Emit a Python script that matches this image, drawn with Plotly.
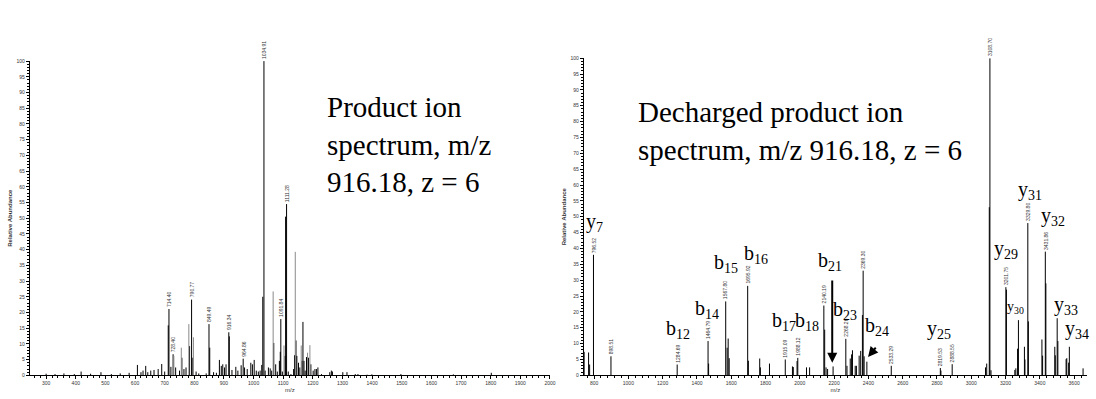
import plotly.graph_objects as go

# ---------------- data: left spectrum (product ion spectrum) ----------------
left_black_mz = [300, 330, 360, 395, 418, 450, 485, 520, 550, 580, 608, 620, 627, 636, 643, 653, 664, 678, 690, 700,
                 712, 714.40, 721, 728.40, 737, 750, 758, 765, 772, 784, 790.77, 792.6, 806, 815, 840, 849.49, 852,
                 865, 874.5, 884.6, 891, 896, 902, 907, 916.34, 918, 927, 940, 947, 958, 964.86, 969.5, 978.5, 990.6,
                 996, 1002, 1009, 1016, 1022, 1027.5, 1031, 1034.91, 1039, 1050, 1056, 1061, 1068, 1074.5, 1080,
                 1087, 1090, 1091.84, 1097, 1106, 1108, 1111.28, 1117, 1126, 1135, 1138, 1143, 1146, 1151.6, 1156,
                 1163, 1166.5, 1170, 1174, 1178.5, 1185, 1193.3, 1201, 1207, 1212, 1217, 1229, 1257, 1262.4, 1266,
                 1301, 1315, 1343, 1352, 1383, 1399, 1497, 1674, 1802]
left_black_int = [0.5, 0.4, 0.6, 0.4, 1.2, 0.5, 1.0, 0.4, 0.6, 0.8, 3.3, 1.0, 1.5, 3.0, 1.0, 1.5, 1.7, 2.0, 3.6, 1.2,
                  15.9, 21.1, 2.7, 6.7, 2.5, 1.5, 5.6, 2.0, 2.5, 9.3, 24.1, 5.6, 1.2, 0.6, 0.6, 16.3, 8.8,
                  1.0, 0.8, 4.9, 3.0, 3.5, 2.5, 3.5, 13.7, 12.4, 1.7, 2.7, 1.5, 3.2, 5.3, 2.5, 2.0, 4.0,
                  3.5, 4.9, 1.5, 1.2, 1.5, 3.3, 25.0, 100, 1.5, 2.5, 2.2, 1.5, 10.3, 3.5, 1.2,
                  4.6, 7.5, 17.9, 1.2, 6.2, 50.5, 54.5, 1.2, 0.4, 2.0, 6.4, 11.1, 6.2, 4.0, 2.5,
                  4.6, 17.0, 4.6, 1.5, 5.8, 5.6, 3.5, 1.5, 2.0, 2.0, 2.5, 0.4, 1.0, 1.5, 1.2,
                  1.0, 1.0, 0.4, 0.4, 0.2, 0.3, 0.4, 0.3, 0.8]
left_gray_mz = [731, 756, 781.5, 797, 1066, 1102.6, 1140.6, 1160.7, 1182, 1190]
left_gray_int = [6.2, 8.8, 16.3, 12.1, 26.7, 9.5, 39.3, 9.5, 7.2, 9.6]
left_label_mz = [714.40, 728.40, 790.77, 849.49, 916.34, 964.86, 1034.91, 1091.84, 1111.28]
left_label_text = ["714.40", "728.40", "790.77", "849.49", "916.34", "964.86", "1034.91", "1091.84", "1111.28"]

# ---------------- data: right spectrum (decharged) ----------------
right_mz = [742, 768, 774, 796.52, 898.51, 1284.69, 1464.79, 1468, 1567.80, 1576, 1582, 1588, 1695.92, 1700,
            1766, 1770, 1823, 1915.09, 1957, 1962, 1984, 1988.12, 2039, 2057, 2140.19, 2145, 2153, 2162, 2194,
            2268.26, 2275, 2294, 2302, 2307, 2323, 2330, 2346, 2355, 2365, 2369.30, 2375, 2391, 2533.29,
            2819.53, 2823, 2888.55, 3083, 3090, 3105, 3108.70, 3115, 3201.75, 3205, 3254, 3260, 3270, 3275,
            3310, 3313, 3329.80, 3333, 3412, 3416, 3431.86, 3435, 3487, 3490, 3501, 3505, 3553, 3557, 3568,
            3572, 3652]
right_int = [7.4, 7.2, 3.4, 38.0, 6.0, 3.4, 10.8, 3.7, 23.3, 8.7, 11.6, 5.4, 28.2, 4.6,
             5.3, 2.5, 3.7, 5.0, 2.8, 2.6, 4.5, 5.5, 2.5, 2.5, 22.0, 14.4, 2.5, 2.0, 2.8,
             11.5, 3.0, 5.3, 6.6, 7.9, 3.0, 3.0, 6.2, 7.7, 19.0, 33.0, 6.0, 4.3, 3.0,
             2.3, 1.5, 3.5, 2.5, 3.7, 53.0, 100, 1.6, 27.8, 27.0, 1.7, 2.2, 8.4, 17.4,
             9.0, 5.0, 48.0, 17.0, 11.3, 6.2, 39.0, 29.0, 9.0, 6.3, 18.0, 10.8, 5.1, 5.4, 4.0,
             9.0, 2.2]
right_label_mz = [796.52, 898.51, 1284.69, 1464.79, 1567.80, 1695.92, 1915.09, 1988.12, 2140.19, 2268.26,
                  2369.30, 2533.29, 2819.53, 2888.55, 3108.70, 3201.75, 3329.80, 3431.86]
right_label_text = ["796.52", "898.51", "1284.69", "1464.79", "1567.80", "1695.92", "1915.09", "1988.12",
                    "2140.19", "2268.26", "2369.30", "2533.29", "2819.53", "2888.55", "3108.70", "3201.75",
                    "3329.80", "3431.86"]

# fragment ion annotations (name, m/z position, relative-abundance position)
ion_names = ["y<sub>7</sub>", "b<sub>12</sub>", "b<sub>14</sub>", "b<sub>15</sub>", "b<sub>16</sub>",
             "b<sub>17</sub>", "b<sub>18</sub>", "b<sub>21</sub>", "b<sub>23</sub>", "b<sub>24</sub>",
             "y<sub>25</sub>", "y<sub>28</sub>", "y<sub>29</sub>", "y<sub>30</sub>", "y<sub>31</sub>",
             "y<sub>32</sub>", "y<sub>33</sub>", "y<sub>34</sub>"]
ion_mz = [802, 1290, 1458, 1568, 1742, 1905, 2044, 2178, 2265, 2450, 2810, 3077, 3205, 3257, 3344, 3478, 3553, 3617]
ion_y = [48.1, 14.3, 20.8, 35.4, 38.2, 17.1, 17.1, 36.0, 20.5, 15.5, 14.3, 111.0, 39.8, 21.4, 58.4, 50.0, 22.0, 14.3]

left_title = "Product ion<br>spectrum, m/z<br>916.18, z = 6"
right_title = "Decharged product ion<br>spectrum, m/z 916.18, z = 6"


def sticks(mz, inten):
    xs, ys = [], []
    for m, h in zip(mz, inten):
        xs += [m, m, None]
        ys += [0, h, None]
    return xs, ys


fig = go.Figure()
for mz, it, col, xa, ya in [(left_black_mz, left_black_int, "#000000", "x", "y"),
                            (left_gray_mz, left_gray_int, "#8a8a8a", "x", "y"),
                            (right_mz, right_int, "#000000", "x2", "y2")]:
    xs, ys = sticks(mz, it)
    fig.add_trace(go.Scatter(x=xs, y=ys, mode="lines", line=dict(color=col, width=1),
                             xaxis=xa, yaxis=ya, showlegend=False, hoverinfo="skip"))

W, H = 1096, 399
ann = []
num_font = dict(family="Liberation Sans, Arial", size=5, color="#333333")
allmz_left = left_black_mz + left_gray_mz
allint_left = left_black_int + left_gray_int
for m, t in zip(left_label_mz, left_label_text):
    h = allint_left[allmz_left.index(m)]
    ann.append(dict(x=m, y=h, xref="x", yref="y", text=t, textangle=-90, showarrow=False,
                    xanchor="center", yanchor="bottom", yshift=1, borderpad=0, font=num_font))
for m, t in zip(right_label_mz, right_label_text):
    h = right_int[right_mz.index(m)]
    ann.append(dict(x=m, y=h, xref="x2", yref="y2", text=t, textangle=-90, showarrow=False,
                    xanchor="center", yanchor="bottom", yshift=1, borderpad=0, font=num_font))

serif = "Liberation Serif, Times New Roman, serif"
for n, m, yv in zip(ion_names, ion_mz, ion_y):
    size = 14 if n == "y<sub>30</sub>" else 20
    ann.append(dict(x=m, y=yv, xref="x2", yref="y2", text=n, showarrow=False, xanchor="center",
                    yanchor="middle", font=dict(family=serif, size=size, color="black")))

# arrows pointing at b21 and b24
ann.append(dict(x=2189, y=4.0, ax=2189, ay=30.4, xref="x2", yref="y2", axref="x2", ayref="y2",
                text="", showarrow=True, arrowhead=2, arrowsize=1, arrowwidth=2, arrowcolor="black",
                standoff=0, startstandoff=0))
ann.append(dict(x=2398, y=5.8, ax=2450, ay=9.2, xref="x2", yref="y2", axref="x2", ayref="y2",
                text="", showarrow=True, arrowhead=2, arrowsize=1, arrowwidth=2, arrowcolor="black",
                standoff=0, startstandoff=0))

ann.append(dict(x=327 / W, y=1 - 144 / H, xref="paper", yref="paper", text=left_title, showarrow=False,
                xanchor="left", yanchor="middle", align="left", font=dict(family=serif, size=29, color="black")))
ann.append(dict(x=640 / W, y=1 - 130 / H, xref="paper", yref="paper", text=right_title, showarrow=False,
                xanchor="left", yanchor="middle", align="left", font=dict(family=serif, size=29, color="black")))

tick_font = dict(family="Liberation Sans, Arial", size=5, color="#333333")
title_font = dict(family="Liberation Sans, Arial", size=6, color="#333333")


def xax(domain, rng, dtick, minor):
    return dict(domain=domain, range=rng, dtick=dtick, tick0=0, ticks="outside", ticklen=3, tickwidth=1,
                tickcolor="black", tickfont=tick_font, showline=True, linecolor="black", linewidth=1,
                showgrid=False, zeroline=False, minor=dict(dtick=minor, ticks="outside", ticklen=2,
                                                           tickcolor="black", showgrid=False),
                title=dict(text="m/z", font=title_font, standoff=2))


def yax(domain, anchor):
    return dict(domain=domain, range=[0, 100], dtick=5, tick0=0, ticks="outside", ticklen=3, tickwidth=1,
                tickcolor="black", tickfont=tick_font, showline=True, linecolor="black", linewidth=1,
                showgrid=False, zeroline=False, anchor=anchor,
                minor=dict(dtick=1, ticks="outside", ticklen=1.5, tickcolor="black", showgrid=False),
                title=dict(text="<b>Relative Abundance</b>", font=title_font, standoff=3))


fig.update_layout(
    width=W, height=H, autosize=False, margin=dict(l=0, r=0, t=0, b=0),
    paper_bgcolor="white", plot_bgcolor="white", showlegend=False,
    xaxis=dict(**xax([30 / W, 553 / W], [245, 2000], 100, 20), anchor="y"),
    yaxis=yax([(H - 378) / H, (H - 59) / H], "x"),
    xaxis2=dict(**xax([587 / W, 1093 / W], [740, 3675], 200, 40), anchor="y2"),
    yaxis2=yax([(H - 378) / H, (H - 56) / H], "x2"),
    annotations=ann,
)

fig.write_html("out.html")
